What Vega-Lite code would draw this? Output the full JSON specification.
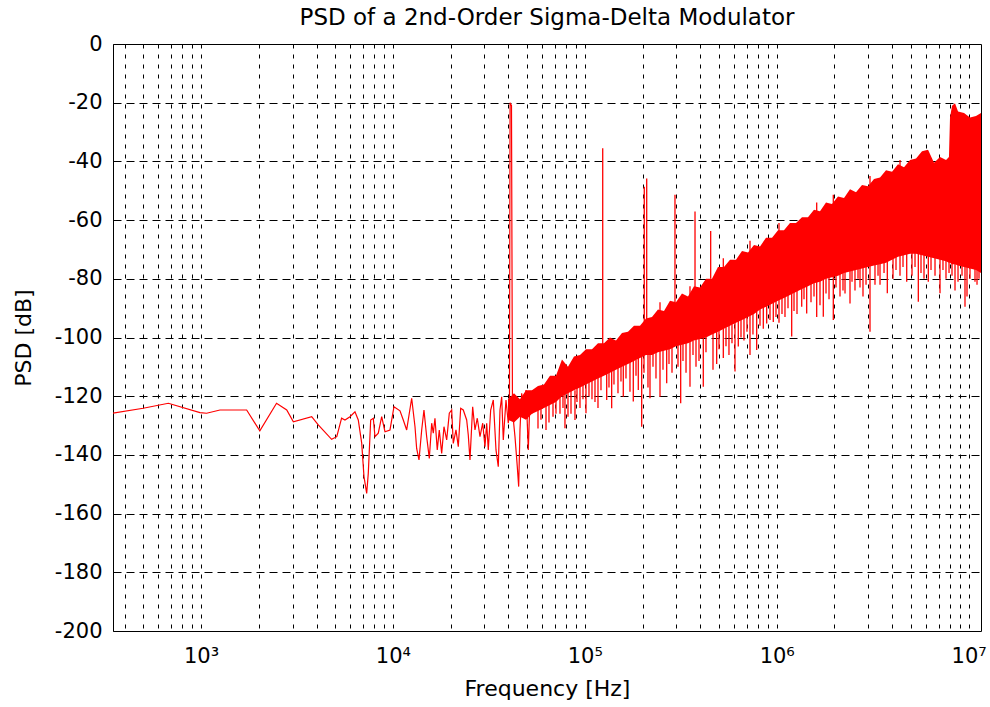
{
 "$schema": "https://vega.github.io/schema/vega-lite/v6.json",
 "width": 868,
 "height": 587,
 "autosize": {"type": "none"},
 "padding": {"left": 113, "top": 44, "right": 9, "bottom": 76},
 "background": "white",
 "title": {"text": "PSD of a 2nd-Order Sigma-Delta Modulator", "font": "DejaVu Sans", "fontSize": 23, "fontWeight": "normal", "color": "#000000", "anchor": "middle", "frame": "group", "offset": 3},
 "config": {
  "view": {"stroke": "#000000", "strokeWidth": 1},
  "axis": {"labelFont": "DejaVu Sans", "labelFontSize": 21, "labelColor": "#000000", "titleFont": "DejaVu Sans", "titleFontSize": 22, "titleFontWeight": "normal", "titleColor": "#000000", "gridColor": "#000000", "gridOpacity": 1, "gridWidth": 1, "domain": false, "ticks": false}
 },
 "datasets": {
  "low": [
   {"f": 348, "db": -125.8}, {"f": 500, "db": -124.1}, {"f": 676, "db": -122.4}, {"f": 988, "db": -125.6}, {"f": 1070, "db": -125.8},
   {"f": 1256, "db": -124.7}, {"f": 1730, "db": -124.7}, {"f": 2026, "db": -131.8}, {"f": 2476, "db": -122.4}, {"f": 2798, "db": -124.7},
   {"f": 3030, "db": -128.7}, {"f": 3775, "db": -127.0}, {"f": 4085, "db": -129.8}, {"f": 4795, "db": -134.7}, {"f": 5100, "db": -133.8},
   {"f": 5405, "db": -127.5}, {"f": 5628, "db": -128.1}, {"f": 5977, "db": -127.0}, {"f": 6346, "db": -125.3}, {"f": 6602, "db": -128.1},
   {"f": 6879, "db": -136.0}, {"f": 7070, "db": -147.4}, {"f": 7303, "db": -153.1}, {"f": 7444, "db": -146.3}, {"f": 7662, "db": -128.1},
   {"f": 7906, "db": -127.5}, {"f": 8068, "db": -133.8}, {"f": 8393, "db": -132.6}, {"f": 8743, "db": -127.0}, {"f": 9094, "db": -132.1},
   {"f": 9658, "db": -131.5}, {"f": 10133, "db": -123.6}, {"f": 10890, "db": -125.0}, {"f": 11330, "db": -128.1}, {"f": 11800, "db": -131.5},
   {"f": 12530, "db": -120.7}, {"f": 13040, "db": -130.4}, {"f": 13300, "db": -137.8}, {"f": 13680, "db": -141.7}, {"f": 14130, "db": -131.5},
   {"f": 14520, "db": -124.7}, {"f": 15000, "db": -133.8}, {"f": 15480, "db": -141.2}, {"f": 15930, "db": -129.2}, {"f": 16240, "db": -132.6},
   {"f": 16570, "db": -127.5}, {"f": 17030, "db": -138.3}, {"f": 17450, "db": -131.5}, {"f": 17960, "db": -139.5}, {"f": 18460, "db": -130.4},
   {"f": 19070, "db": -134.9}, {"f": 19680, "db": -125.8}, {"f": 20250, "db": -124.7}, {"f": 20640, "db": -136.1}, {"f": 21320, "db": -131.5},
   {"f": 21920, "db": -137.2}, {"f": 22560, "db": -124.1}, {"f": 23270, "db": -124.7}, {"f": 24240, "db": -128.1}, {"f": 24710, "db": -133.2},
   {"f": 25220, "db": -141.7}, {"f": 26050, "db": -123.6}, {"f": 26780, "db": -131.5}, {"f": 27530, "db": -127.5}, {"f": 28440, "db": -133.8},
   {"f": 29380, "db": -129.2}, {"f": 30190, "db": -137.2}, {"f": 30820, "db": -129.2}, {"f": 31420, "db": -138.3}, {"f": 32330, "db": -124.7},
   {"f": 33360, "db": -121.3}, {"f": 34460, "db": -138.3}, {"f": 35420, "db": -144.0}, {"f": 36150, "db": -124.7}, {"f": 36900, "db": -120.2},
   {"f": 37610, "db": -134.9}, {"f": 38850, "db": -121.3}, {"f": 39940, "db": -129.2}, {"f": 40500, "db": -125.0}, {"f": 40800, "db": -20.0},
   {"f": 41500, "db": -21.0}, {"f": 42000, "db": -126.0}, {"f": 42110, "db": -125.8}, {"f": 43280, "db": -133.8}, {"f": 44490, "db": -144.0},
   {"f": 45240, "db": -150.8}, {"f": 45950, "db": -131.5}, {"f": 46900, "db": -119.0}, {"f": 48230, "db": -124.7}, {"f": 49400, "db": -117.9},
   {"f": 50780, "db": -138.3}, {"f": 51830, "db": -120.2}, {"f": 53000, "db": -126.0}
  ],
  "band": [
   {"f": 39800, "lo": -128, "hi": -121}, {"f": 42770, "lo": -129, "hi": -119}, {"f": 45960, "lo": -127, "hi": -121}, {"f": 49390, "lo": -128, "hi": -118},
   {"f": 53070, "lo": -126, "hi": -118}, {"f": 57040, "lo": -125, "hi": -116.5}, {"f": 61290, "lo": -124, "hi": -116}, {"f": 65860, "lo": -123, "hi": -113},
   {"f": 70770, "lo": -122, "hi": -113}, {"f": 76060, "lo": -120, "hi": -107.5}, {"f": 81730, "lo": -119, "hi": -110}, {"f": 87830, "lo": -118, "hi": -106.5},
   {"f": 94410, "lo": -117, "hi": -106}, {"f": 101460, "lo": -116, "hi": -104}, {"f": 109020, "lo": -115, "hi": -104}, {"f": 117160, "lo": -114, "hi": -102},
   {"f": 125910, "lo": -113, "hi": -102}, {"f": 135290, "lo": -112, "hi": -100}, {"f": 145400, "lo": -111, "hi": -101}, {"f": 156250, "lo": -110, "hi": -98.5},
   {"f": 167920, "lo": -109, "hi": -98}, {"f": 180450, "lo": -108, "hi": -96}, {"f": 193920, "lo": -107, "hi": -96}, {"f": 208400, "lo": -106, "hi": -93.5},
   {"f": 223970, "lo": -106, "hi": -93}, {"f": 240690, "lo": -105, "hi": -90.5}, {"f": 258660, "lo": -104.5, "hi": -91}, {"f": 277970, "lo": -104, "hi": -87.5},
   {"f": 298710, "lo": -103, "hi": -88}, {"f": 321010, "lo": -102.5, "hi": -85}, {"f": 345000, "lo": -102, "hi": -86}, {"f": 370680, "lo": -101, "hi": -82.5},
   {"f": 398370, "lo": -100.5, "hi": -83}, {"f": 428130, "lo": -100, "hi": -80}, {"f": 460090, "lo": -99, "hi": -80}, {"f": 494460, "lo": -98, "hi": -76},
   {"f": 531390, "lo": -97, "hi": -76}, {"f": 571070, "lo": -96, "hi": -73.5}, {"f": 613720, "lo": -95, "hi": -73.5}, {"f": 659550, "lo": -94, "hi": -70.5},
   {"f": 708800, "lo": -93, "hi": -71}, {"f": 761720, "lo": -92, "hi": -68.5}, {"f": 818590, "lo": -90.5, "hi": -69}, {"f": 879730, "lo": -89.5, "hi": -66},
   {"f": 945430, "lo": -88.5, "hi": -66}, {"f": 1016000, "lo": -87.5, "hi": -63.5}, {"f": 1091400, "lo": -86.5, "hi": -63.5}, {"f": 1172900, "lo": -85.5, "hi": -61},
   {"f": 1260500, "lo": -84.5, "hi": -61}, {"f": 1354600, "lo": -83.5, "hi": -59}, {"f": 1455800, "lo": -82.5, "hi": -59}, {"f": 1564500, "lo": -81.5, "hi": -56.5},
   {"f": 1681300, "lo": -81, "hi": -57}, {"f": 1806900, "lo": -80, "hi": -54}, {"f": 1941800, "lo": -79.5, "hi": -54.5}, {"f": 2086800, "lo": -79, "hi": -52},
   {"f": 2242600, "lo": -78, "hi": -52.5}, {"f": 2410000, "lo": -77.5, "hi": -49.5}, {"f": 2590000, "lo": -77, "hi": -50.5}, {"f": 2783400, "lo": -76.5, "hi": -48},
   {"f": 2991200, "lo": -76, "hi": -48.5}, {"f": 3214500, "lo": -75.5, "hi": -46}, {"f": 3454500, "lo": -75, "hi": -45.5}, {"f": 3712400, "lo": -74.5, "hi": -43},
   {"f": 3989700, "lo": -73.5, "hi": -43.5}, {"f": 4287600, "lo": -72.5, "hi": -41}, {"f": 4607700, "lo": -72, "hi": -42}, {"f": 4951700, "lo": -71.5, "hi": -39.5},
   {"f": 5321500, "lo": -71.5, "hi": -39}, {"f": 5718900, "lo": -72, "hi": -36.5}, {"f": 6145900, "lo": -72.5, "hi": -36}, {"f": 6604800, "lo": -73, "hi": -40.5},
   {"f": 7098000, "lo": -73.5, "hi": -38.5}, {"f": 7628000, "lo": -74, "hi": -39.5}, {"f": 7900000, "lo": -74.5, "hi": -38.5}, {"f": 8000000, "lo": -74.5, "hi": -25},
   {"f": 8197500, "lo": -75, "hi": -21}, {"f": 8495000, "lo": -75, "hi": -20.2}, {"f": 8809600, "lo": -75.5, "hi": -23}, {"f": 9467400, "lo": -76, "hi": -23.5},
   {"f": 10170000, "lo": -76.5, "hi": -25}, {"f": 10927000, "lo": -77, "hi": -24.5}, {"f": 11604000, "lo": -78, "hi": -23.5}
  ],
  "spikes": [
   {"f": 57040, "y1": -124, "y2": -131}, {"f": 62790, "y1": -123, "y2": -131.5}, {"f": 68290, "y1": -122, "y2": -127}, {"f": 74260, "y1": -120, "y2": -126},
   {"f": 78840, "y1": -119, "y2": -130.9}, {"f": 84750, "y1": -118, "y2": -126}, {"f": 88900, "y1": -118, "y2": -128.1}, {"f": 94410, "y1": -116, "y2": -124},
   {"f": 101450, "y1": -115, "y2": -125.8}, {"f": 109020, "y1": -114, "y2": -121}, {"f": 117160, "y1": -113, "y2": -124}, {"f": 130070, "y1": -112, "y2": -121.3},
   {"f": 138060, "y1": -111, "y2": -124.1}, {"f": 148940, "y1": -110, "y2": -119}, {"f": 158710, "y1": -109, "y2": -120.2}, {"f": 171990, "y1": -108, "y2": -118.5},
   {"f": 178940, "y1": -107, "y2": -121.8}, {"f": 190020, "y1": -107, "y2": -117.9}, {"f": 197930, "y1": -106, "y2": -130.4}, {"f": 213450, "y1": -105, "y2": -117},
   {"f": 218670, "y1": -105, "y2": -120.7}, {"f": 234960, "y1": -104, "y2": -114}, {"f": 246570, "y1": -104, "y2": -120.2}, {"f": 267160, "y1": -104, "y2": -115.6},
   {"f": 284740, "y1": -103, "y2": -112}, {"f": 316010, "y1": -102, "y2": -122.4}, {"f": 336900, "y1": -101, "y2": -112}, {"f": 353340, "y1": -101, "y2": -116.8},
   {"f": 379780, "y1": -100, "y2": -110}, {"f": 414480, "y1": -100, "y2": -116.8}, {"f": 465690, "y1": -98, "y2": -111}, {"f": 486740, "y1": -97, "y2": -109},
   {"f": 527000, "y1": -96, "y2": -107}, {"f": 564040, "y1": -95, "y2": -106}, {"f": 606320, "y1": -94, "y2": -111.6}, {"f": 630820, "y1": -94, "y2": -103.1},
   {"f": 675300, "y1": -93, "y2": -101}, {"f": 725940, "y1": -92, "y2": -106}, {"f": 786680, "y1": -91, "y2": -104.3}, {"f": 851540, "y1": -89, "y2": -97},
   {"f": 887000, "y1": -89, "y2": -95.2}, {"f": 960050, "y1": -88, "y2": -94.7}, {"f": 1028000, "y1": -87, "y2": -95}, {"f": 1104600, "y1": -86, "y2": -93},
   {"f": 1197100, "y1": -85, "y2": -99.7}, {"f": 1275900, "y1": -84, "y2": -92}, {"f": 1350000, "y1": -83, "y2": -89.5}, {"f": 1433100, "y1": -82, "y2": -91.8},
   {"f": 1509300, "y1": -81, "y2": -88}, {"f": 1616000, "y1": -81, "y2": -93}, {"f": 1749300, "y1": -80, "y2": -92.9}, {"f": 1873400, "y1": -79, "y2": -87},
   {"f": 1972400, "y1": -79, "y2": -94}, {"f": 2137400, "y1": -78, "y2": -86}, {"f": 2269900, "y1": -77, "y2": -85}, {"f": 2409900, "y1": -77, "y2": -88.4},
   {"f": 2558600, "y1": -76, "y2": -84}, {"f": 2717300, "y1": -76, "y2": -83}, {"f": 2920600, "y1": -75, "y2": -82}, {"f": 3063400, "y1": -75, "y2": -98},
   {"f": 3252400, "y1": -75, "y2": -82}, {"f": 3454500, "y1": -74, "y2": -82}, {"f": 3770700, "y1": -74, "y2": -84.9}, {"f": 4037100, "y1": -73, "y2": -80},
   {"f": 4391200, "y1": -72, "y2": -79}, {"f": 4758800, "y1": -71, "y2": -81}, {"f": 5071000, "y1": -71, "y2": -79}, {"f": 5470100, "y1": -71, "y2": -87.8},
   {"f": 5856000, "y1": -71, "y2": -80}, {"f": 6166000, "y1": -72, "y2": -81}, {"f": 6683400, "y1": -72, "y2": -79}, {"f": 7095800, "y1": -73, "y2": -84.9},
   {"f": 7624100, "y1": -73, "y2": -80}, {"f": 8194100, "y1": -74, "y2": -79}, {"f": 8808300, "y1": -75, "y2": -81}, {"f": 9576600, "y1": -75, "y2": -89.5},
   {"f": 10169000, "y1": -76, "y2": -80}, {"f": 10798000, "y1": -76, "y2": -81}, {"f": 11330000, "y1": -77, "y2": -80},
   {"f": 59120, "y1": -124, "y2": -128}, {"f": 65080, "y1": -122.5, "y2": -129}, {"f": 70770, "y1": -121.5, "y2": -126}, {"f": 76980, "y1": -119.5, "y2": -124},
   {"f": 81750, "y1": -118.5, "y2": -127}, {"f": 91070, "y1": -117, "y2": -122}, {"f": 97860, "y1": -116, "y2": -121}, {"f": 105170, "y1": -115, "y2": -120},
   {"f": 113020, "y1": -114, "y2": -122}, {"f": 121450, "y1": -113, "y2": -118}, {"f": 133680, "y1": -111.5, "y2": -117}, {"f": 141940, "y1": -111, "y2": -116},
   {"f": 154380, "y1": -109.5, "y2": -115}, {"f": 163910, "y1": -109, "y2": -114}, {"f": 184880, "y1": -107.5, "y2": -113}, {"f": 203500, "y1": -106, "y2": -112},
   {"f": 226690, "y1": -105, "y2": -110}, {"f": 255590, "y1": -104, "y2": -111}, {"f": 274660, "y1": -103.5, "y2": -109}, {"f": 305970, "y1": -102.5, "y2": -110},
   {"f": 324860, "y1": -102, "y2": -108}, {"f": 366340, "y1": -101, "y2": -106}, {"f": 393650, "y1": -100, "y2": -108}, {"f": 428050, "y1": -99.5, "y2": -105},
   {"f": 500390, "y1": -97.5, "y2": -104}, {"f": 544240, "y1": -96.5, "y2": -103}, {"f": 584790, "y1": -95.5, "y2": -102}, {"f": 651630, "y1": -94, "y2": -100},
   {"f": 700070, "y1": -93, "y2": -98}, {"f": 752140, "y1": -92, "y2": -99}, {"f": 818460, "y1": -90, "y2": -96}, {"f": 922760, "y1": -88.5, "y2": -94},
   {"f": 991550, "y1": -87.5, "y2": -93}, {"f": 1065600, "y1": -86.5, "y2": -92}, {"f": 1145300, "y1": -85.5, "y2": -90}, {"f": 1230900, "y1": -84.5, "y2": -91},
   {"f": 1387600, "y1": -82.5, "y2": -87}, {"f": 1564700, "y1": -81, "y2": -86}, {"f": 1681400, "y1": -80.5, "y2": -89}, {"f": 1806900, "y1": -79.5, "y2": -85},
   {"f": 2037000, "y1": -78.5, "y2": -83}, {"f": 2215600, "y1": -77.5, "y2": -84}, {"f": 2468600, "y1": -76.5, "y2": -81}, {"f": 2653000, "y1": -76, "y2": -80},
   {"f": 2816500, "y1": -75.5, "y2": -86}, {"f": 3372900, "y1": -74.5, "y2": -79}, {"f": 3625300, "y1": -74, "y2": -78}, {"f": 4185000, "y1": -72, "y2": -77},
   {"f": 4551900, "y1": -71.5, "y2": -76}, {"f": 5257600, "y1": -71, "y2": -76}, {"f": 5649400, "y1": -71.5, "y2": -78}, {"f": 6369700, "y1": -72, "y2": -77},
   {"f": 7353600, "y1": -73, "y2": -77}, {"f": 7907100, "y1": -74, "y2": -78}, {"f": 8495200, "y1": -74.5, "y2": -84}, {"f": 9240600, "y1": -75, "y2": -79},
   {"f": 9810700, "y1": -75.5, "y2": -86}, {"f": 11062000, "y1": -76.5, "y2": -82},
   {"f": 246570, "y1": -91.5, "y2": -88}, {"f": 353340, "y1": -86, "y2": -82.5}, {"f": 527000, "y1": -76.5, "y2": -73}, {"f": 725940, "y1": -70.5, "y2": -67},
   {"f": 1028000, "y1": -64, "y2": -61}, {"f": 1616000, "y1": -57.5, "y2": -54}, {"f": 1972400, "y1": -54.5, "y2": -51.4}, {"f": 3063400, "y1": -48, "y2": -45},
   {"f": 4391200, "y1": -42, "y2": -39.5},
   {"f": 124000, "y1": -104, "y2": -35.5}, {"f": 204200, "y1": -95, "y2": -48.6}, {"f": 210200, "y1": -95, "y2": -45.8},
   {"f": 295100, "y1": -88, "y2": -51.4}, {"f": 375300, "y1": -84, "y2": -57.1}, {"f": 452900, "y1": -80, "y2": -63.7}
  ]
 },
 "layer": [
  {
   "data": {"name": "low"},
   "mark": {"type": "line", "color": "#ff0000", "strokeWidth": 1.2, "clip": true},
   "encoding": {
    "x": {"field": "f", "type": "quantitative", "title": "Frequency [Hz]",
     "scale": {"type": "log", "domain": [348, 11604000], "nice": false},
     "axis": {"values": [400,500,600,700,800,900,1000,2000,3000,4000,5000,6000,7000,8000,9000,10000,20000,30000,40000,50000,60000,70000,80000,90000,100000,200000,300000,400000,500000,600000,700000,800000,900000,1000000,2000000,3000000,4000000,5000000,6000000,7000000,8000000,9000000,10000000],
      "labelExpr": "datum.value == 1000 ? '10³' : datum.value == 10000 ? '10⁴' : datum.value == 100000 ? '10⁵' : datum.value == 1000000 ? '10⁶' : datum.value == 10000000 ? '10⁷' : ''",
      "labelFlush": false, "labelOverlap": false, "labelPadding": 14, "grid": true, "gridDash": [4, 6], "titlePadding": 12}},
    "y": {"field": "db", "type": "quantitative", "title": "PSD [dB]",
     "scale": {"domain": [-200, 0], "nice": false, "zero": false},
     "axis": {"values": [-200,-180,-160,-140,-120,-100,-80,-60,-40,-20,0], "labelExpr": "toString(datum.value)", "labelPadding": 11, "grid": true, "gridDash": [8, 5], "titlePadding": 19}}
   }
  },
  {
   "data": {"name": "band"},
   "mark": {"type": "area", "color": "#ff0000", "opacity": 1, "clip": true},
   "encoding": {
    "x": {"field": "f", "type": "quantitative", "title": "Frequency [Hz]"},
    "y": {"field": "lo", "type": "quantitative", "title": "PSD [dB]"},
    "y2": {"field": "hi"}
   }
  },
  {
   "data": {"name": "spikes"},
   "mark": {"type": "rule", "color": "#ff0000", "strokeWidth": 1.3, "clip": true},
   "encoding": {
    "x": {"field": "f", "type": "quantitative", "title": "Frequency [Hz]"},
    "y": {"field": "y1", "type": "quantitative", "title": "PSD [dB]"},
    "y2": {"field": "y2"}
   }
  }
 ]
}
